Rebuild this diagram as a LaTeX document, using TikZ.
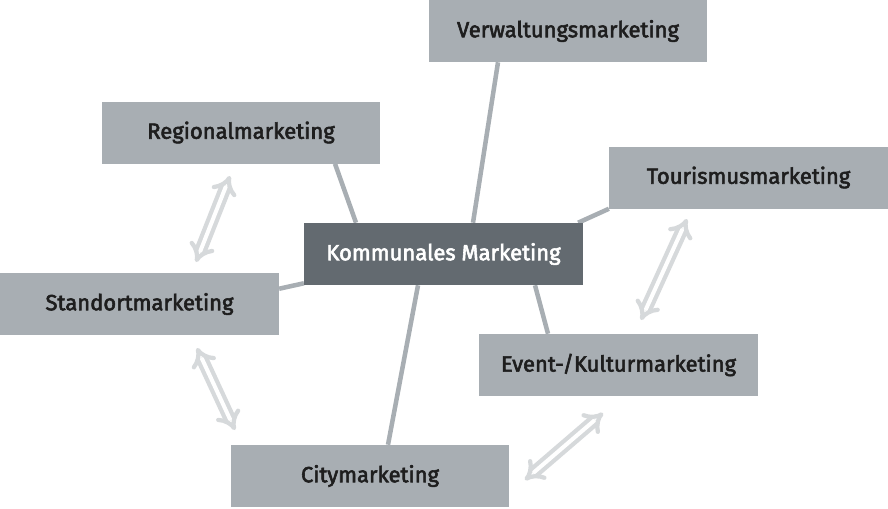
\documentclass[tikz,border=0pt]{standalone}
\usepackage{fontspec}
\setmainfont{Fira Sans}
\newfontfamily\labelfont{Fira Sans}[FakeBold=2.6]
\usetikzlibrary{arrows.meta,calc,backgrounds}
\definecolor{boxgrey}{HTML}{A8AEB3}
\definecolor{centergrey}{HTML}{636A70}
\definecolor{arrowgrey}{HTML}{D6D9DB}
\definecolor{textdark}{HTML}{1E1E1E}
\tikzset{
    topic/.style={fill=boxgrey, minimum width=209pt, minimum height=46.5pt, inner sep=0pt,
        text=textdark, font=\fontsize{16.5}{18}\labelfont},
    middle/.style={topic, fill=centergrey, text=white},
    link/.style={draw=boxgrey, line width=3.4pt},
    swap/.style={draw=arrowgrey, line width=3.2pt, double=white, double distance=3pt, {Implies}-{Implies}}
}
\begin{document}
\begin{tikzpicture}[x=0.75pt, y=-0.75pt]
    \useasboundingbox (0,0) rectangle (888,508);

    %boxes:
    \node[middle] (kom) at (443.5,254) {Kommunales Marketing};
    \node[topic] (verw) at (568,31) {Verwaltungsmarketing};
    \node[topic] (reg) at (241,132.5) {Regionalmarketing};
    \node[topic] (tour) at (748.5,177.5) {Tourismusmarketing};
    \node[topic] (stand) at (139.5,304) {Standortmarketing};
    \node[topic] (event) at (618.5,365) {Event-/Kulturmarketing};
    \node[topic] (city) at (370,476) {Citymarketing};

    %links to the middle:
    \begin{scope}[on background layer]
        \draw[link] ($(kom.north)+(29.5,0)$) -- ($(verw.south)+(-70,0)$);
        \draw[link] ($(kom.north)+(-87.5,0)$) -- ($(reg.south)+(94,0)$);
        \draw[link] ($(kom.north east)+(-5,0)$) -- (tour.south west);
        \draw[link] ($(kom.south west)+(0,-2)$) -- ($(stand.north east)+(0,16)$);
        \draw[link] ($(kom.south)+(-25.5,0)$) -- ($(city.north)+(18,0)$);
        \draw[link] ($(kom.south)+(91.5,0)$) -- ($(event.north)+(-70.5,0)$);
    \end{scope}

    %arrows between neighbours:
    \coordinate (rs1) at (230,176);
    \coordinate (rs2) at (196,262);
    \coordinate (sc1) at (197,348);
    \coordinate (sc2) at (235,430);
    \coordinate (te1) at (687,219);
    \coordinate (te2) at (641,320);
    \coordinate (ec1) at (603,413);
    \coordinate (ec2) at (525,480);
    \draw[swap] (rs1) -- (rs2);
    \draw[swap] (sc1) -- (sc2);
    \draw[swap] (te1) -- (te2);
    \draw[swap] (ec1) -- (ec2);
\end{tikzpicture}
\end{document}
